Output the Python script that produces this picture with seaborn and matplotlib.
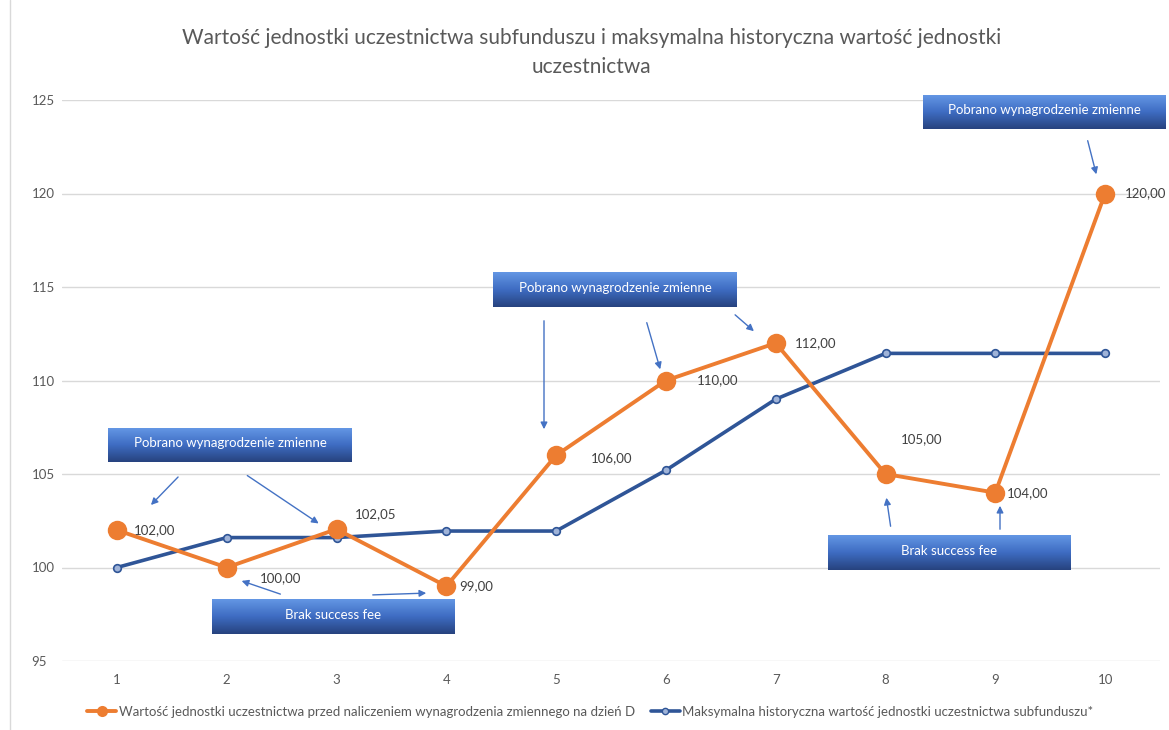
import numpy as np
import pandas as pd
import matplotlib
matplotlib.use("Agg")
import matplotlib.pyplot as plt
import seaborn as sns
from matplotlib.lines import Line2D

# data
okres = [1, 2, 3, 4, 5, 6, 7, 8, 9, 10]
wartosc_ju = [102.00, 100.00, 102.05, 99.00, 106.00, 110.00, 112.00, 105.00, 104.00, 120.00]
max_hist = [100.0, 101.6, 101.6, 101.95, 101.95, 105.2, 109.0, 111.45, 111.45, 111.45]
y_ticks = [95, 100, 105, 110, 115, 120, 125]

label_orange = "Wartość jednostki uczestnictwa przed naliczeniem wynagrodzenia zmiennego na dzień D"
label_blue = "Maksymalna historyczna wartość jednostki uczestnictwa subfunduszu*"
title = ("Wartość jednostki uczestnictwa subfunduszu i maksymalna historyczna wartość jednostki\n"
         "uczestnictwa")

df = pd.DataFrame({"okres": okres, "ju": wartosc_ju, "max": max_hist})

sns.set_theme(style="white")
plt.rcParams["font.family"] = ["Lato", "DejaVu Sans"]

W, H = 1169, 730
fig = plt.figure(figsize=(W / 100, H / 100), dpi=100)
ax = fig.add_axes([62 / W, 1 - 661 / H, (1160 - 62) / W, (661 - 100) / H])

ORANGE = "#ED7D31"
NAVY = "#2F5597"
GREY = "#595959"

sns.lineplot(data=df, x="okres", y="max", ax=ax, color=NAVY, lw=2.6, marker="o",
             markersize=5.5, markerfacecolor="#9fb3d8", markeredgecolor=NAVY,
             markeredgewidth=1.2, zorder=3)
sns.lineplot(data=df, x="okres", y="ju", ax=ax, color=ORANGE, lw=2.8, marker="o",
             markersize=14, markeredgewidth=0, zorder=4)

ax.set_xlim(0.5, 10.5)
ax.set_ylim(95, 125)
ax.set_yticks(y_ticks)
ax.set_xticks(okres)
ax.set_xlabel("")
ax.set_ylabel("")
for s in ax.spines.values():
    s.set_visible(False)
ax.grid(axis="y", color="#d9d9d9", lw=1)
ax.set_axisbelow(True)
ax.tick_params(axis="both", length=0, labelsize=9.5, labelcolor=GREY)
ax.tick_params(axis="y", pad=22)
ax.tick_params(axis="x", pad=9)
for t in ax.get_yticklabels():
    t.set_horizontalalignment("left")

# data labels (offsets in points)
offsets = [(12, 0), (24, -8), (13, 11), (9, 0), (25, -2), (22, 0), (14, 0), (11, 25), (8, 0), (14, 0)]
for x, v, (dx, dy) in zip(okres, wartosc_ju, offsets):
    ax.annotate(f"{v:.2f}".replace(".", ","), (x, v), xytext=(dx, dy),
                textcoords="offset points", ha="left", va="center",
                fontsize=9.5, color="#404040", zorder=5)

fig.suptitle(title, x=0.506, y=0.962, fontsize=15, color=GREY, va="top", linespacing=1.55)


def fpx(x, y):
    return (x / W, 1 - y / H)


# gradient callout boxes
grad = np.linspace(0, 1, 64).reshape(-1, 1)
cmap = matplotlib.colors.LinearSegmentedColormap.from_list("box", ["#6396e4", "#3e6cc2", "#27437f"])
boxes = [
    ((108, 428, 352, 462), "Pobrano wynagrodzenie zmienne"),
    ((212, 599, 455, 634), "Brak success fee"),
    ((493, 272, 737, 307), "Pobrano wynagrodzenie zmienne"),
    ((923, 95, 1165, 129), "Pobrano wynagrodzenie zmienne"),
    ((828, 535, 1071, 570), "Brak success fee"),
]
for (x0, y0, x1, y1), txt in boxes:
    bax = fig.add_axes([x0 / W, 1 - y1 / H, (x1 - x0) / W, (y1 - y0) / H])
    bax.imshow(grad, aspect="auto", cmap=cmap, extent=(0, 1, 0, 1))
    bax.set_axis_off()
    bax.text(0.5, 0.55, txt, ha="center", va="center", color="white", fontsize=9.5,
             transform=bax.transAxes)

arrows = [
    ((180, 475), (149, 507)),
    ((245, 474), (321, 525)),
    ((283, 595), (239, 580)),
    ((370, 595), (429, 593)),
    ((544, 318), (544, 432)),
    ((646, 320), (661, 372)),
    ((733, 313), (756, 333)),
    ((1087, 138), (1097, 177)),
    ((891, 529), (886, 495)),
    ((1000, 532), (1000, 503)),
]
for start, end in arrows:
    fig.add_artist(matplotlib.patches.FancyArrowPatch(
        fpx(*start), fpx(*end), transform=fig.transFigure, arrowstyle="-|>",
        mutation_scale=10, color="#4472C4", lw=1))

# left frame line
fig.add_artist(Line2D([10 / W, 10 / W], [0, 1], transform=fig.transFigure, color="#d9d9d9", lw=1))

handles = [
    Line2D([], [], color=ORANGE, lw=2.8, marker="o", markersize=8, markeredgewidth=0),
    Line2D([], [], color=NAVY, lw=2.6, marker="o", markersize=4.5, markerfacecolor="#9fb3d8",
           markeredgecolor=NAVY),
]
fig.legend(handles, [label_orange, label_blue], loc="center", bbox_to_anchor=(0.505, 1 - 712 / H),
           ncol=2, frameon=False, fontsize=9.5, labelcolor=GREY, handlelength=2.2,
           handletextpad=0.2, columnspacing=1.2)

fig.savefig("out.png", dpi=100)
